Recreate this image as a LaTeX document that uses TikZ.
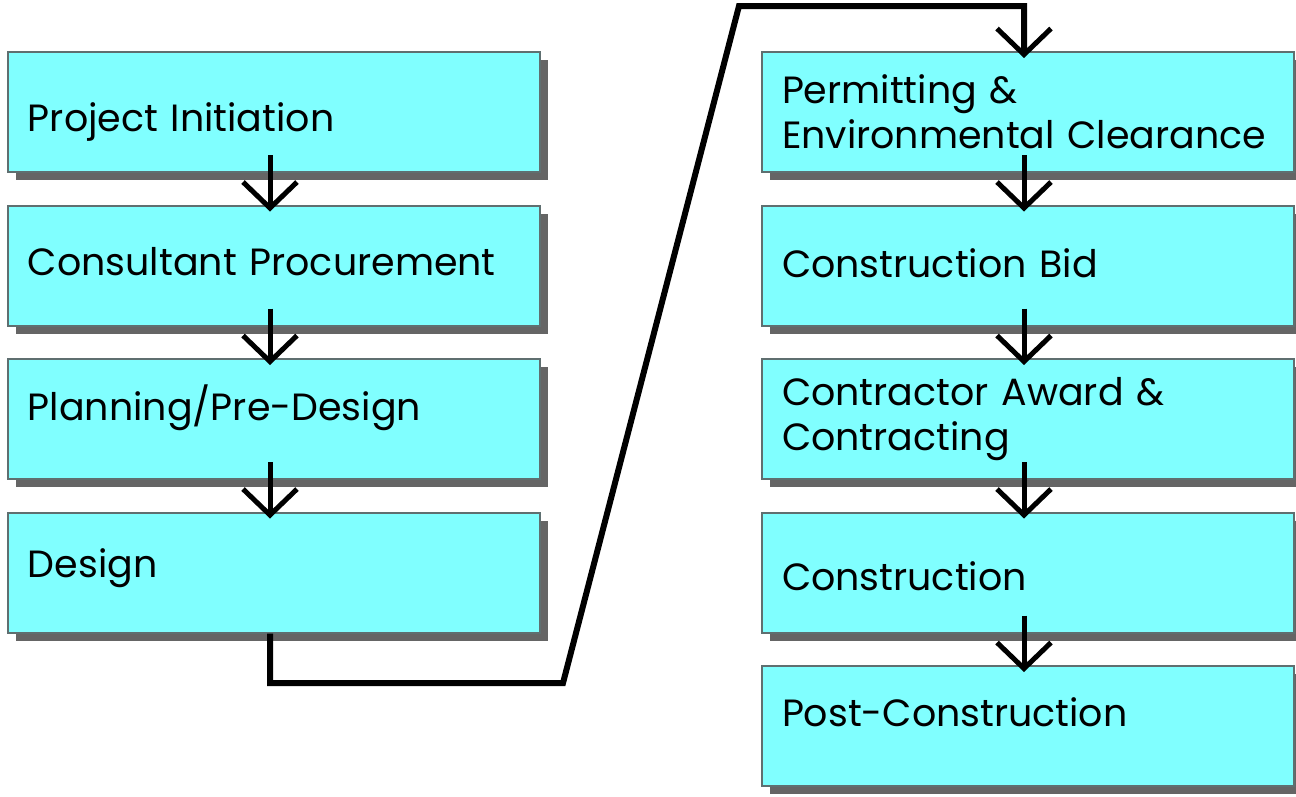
\documentclass[tikz,border=0pt]{standalone}
\usepackage{fontspec}
\setmainfont{Poppins}
\usetikzlibrary{positioning,shadows,arrows.meta}
\definecolor{boxcyan}{HTML}{80FFFF}
\definecolor{boxedge}{HTML}{5F6F70}
\definecolor{shade}{HTML}{656565}
\tikzset{
	phase/.style={draw=boxedge, line width=0.2mm, fill=boxcyan,
		minimum width=53.2mm, minimum height=12mm, text width=49.2mm,
		inner xsep=2mm, inner ysep=0pt, align=left, font=\fontsize{10.8}{12.9}\selectfont,
		drop shadow={shadow xshift=0.8mm, shadow yshift=-0.8mm, fill=shade, opacity=1}},
	sink/.style={text height=#1, text depth=0pt},
	flow/.style={line width=0.5mm, -{Straight Barb[length=2.6mm,width=5.4mm,line width=0.5mm]}},
}
\begin{document}
\begin{tikzpicture}[node distance=3.15mm]
	\useasboundingbox (0,0) rectangle (12.96,-7.96);
	
	% left column
	\node[phase, sink=3.8mm] (init) at (2.74,-1.12) {Project Initiation};
	\node[phase, sink=2.0mm, below=of init] (procure) {Consultant Procurement};
	\node[phase, sink=0.3mm, below=of procure] (plan) {Planning/Pre-Design};
	\node[phase, sink=0.9mm, below=of plan] (design) {Design};
	
	% right column
	\node[phase, right=22.0mm of init] (permit) {Permitting \&\\Environmental Clearance};
	\node[phase, sink=2.4mm, below=of permit] (bid) {Construction Bid};
	\node[phase, below=of bid] (award) {Contractor Award \&\\Contracting};
	\node[phase, sink=3.6mm, below=of award] (build) {Construction};
	\node[phase, sink=0mm, below=of build] (post) {Post-Construction};
	
	\draw[flow] ([xshift=-0.4mm,yshift=1.8mm]init.south) -- ([xshift=-0.4mm,yshift=-0.7mm]procure.north);
	\draw[flow] ([xshift=-0.4mm,yshift=1.8mm]procure.south) -- ([xshift=-0.4mm,yshift=-0.7mm]plan.north);
	\draw[flow] ([xshift=-0.4mm,yshift=1.8mm]plan.south) -- ([xshift=-0.4mm,yshift=-0.7mm]design.north);
	
	\draw[flow] ([xshift=-0.4mm,yshift=1.8mm]permit.south) -- ([xshift=-0.4mm,yshift=-0.7mm]bid.north);
	\draw[flow] ([xshift=-0.4mm,yshift=1.8mm]bid.south) -- ([xshift=-0.4mm,yshift=-0.7mm]award.north);
	\draw[flow] ([xshift=-0.4mm,yshift=1.8mm]award.south) -- ([xshift=-0.4mm,yshift=-0.7mm]build.north);
	\draw[flow] ([xshift=-0.4mm,yshift=1.8mm]build.south) -- ([xshift=-0.4mm,yshift=-0.7mm]post.north);
	
	% jump to the second column
	\coordinate (low) at (5.63,-6.83);
	\coordinate (high) at (7.39,-0.06);
	\draw[flow, line width=0.6mm, line join=miter]
		([xshift=-0.4mm]design.south) |- (low) -- (high) -| ([xshift=-0.4mm,yshift=-0.7mm]permit.north);
\end{tikzpicture}
\end{document}
